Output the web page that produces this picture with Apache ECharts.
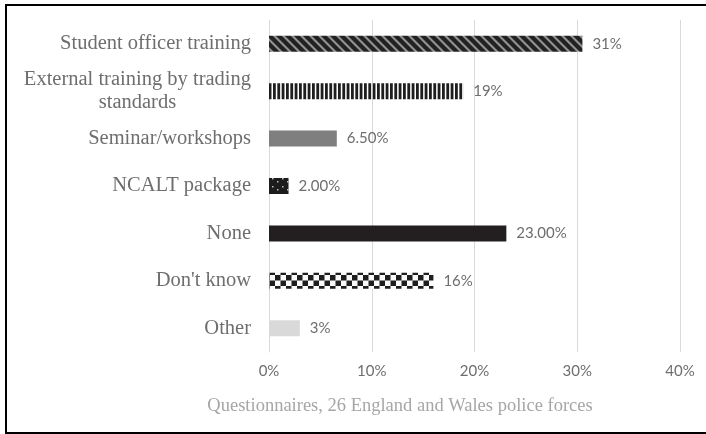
<!DOCTYPE html>
<html>
<head>
<meta charset="utf-8">
<script src="https://cdn.jsdelivr.net/npm/echarts@6/dist/echarts.min.js"></script>
<style>
html,body{margin:0;padding:0;background:#fff;overflow:hidden;}
#chart{width:706px;height:434px;}
</style>
</head>
<body>
<div id="chart"></div>
<script>
// ---- data ----
const categories = ['Student officer training', 'External training by trading standards', 'Seminar/workshops', 'NCALT package', 'None', "Don't know", 'Other'];
const values = [30.5, 18.9, 6.6, 1.9, 23.1, 16, 3];
const valueLabels = ['31%', '19%', '6.50%', '2.00%', '23.00%', '16%', '3%'];
const xTicks = [0, 10, 20, 30, 40];
const sourceText = 'Questionnaires, 26 England and Wales police forces';

// ---- pattern fills ----
function tile(w, h, draw) {
  const c = document.createElement('canvas');
  c.width = w; c.height = h;
  draw(c.getContext('2d'), w, h);
  return { image: c, repeat: 'repeat' };
}
const diag = tile(9, 9, (ctx, w, h) => {
  ctx.fillStyle = '#939393'; ctx.fillRect(0, 0, w, h);
  ctx.strokeStyle = '#222222'; ctx.lineWidth = 4.2;
  for (let x0 = -9; x0 <= 9; x0 += 9) {
    ctx.beginPath(); ctx.moveTo(x0 - 2, -2); ctx.lineTo(x0 + w + 2, h + 2); ctx.stroke();
  }
});
const vstripes = tile(13, 4, (ctx, w, h) => {
  ctx.fillStyle = '#ffffff'; ctx.fillRect(0, 0, w, h);
  ctx.fillStyle = '#1e1e1e';
  for (let i = 0; i < 3; i++) ctx.fillRect(i * 13 / 3, 0, 2.8, h);
});
const dots = tile(10, 8, (ctx, w, h) => {
  ctx.fillStyle = '#1c1c1c'; ctx.fillRect(0, 0, w, h);
  ctx.fillStyle = '#bdbdbd';
  ctx.fillRect(2, 2, 1.5, 1.5);
  ctx.fillRect(7, 5, 1.5, 1.5);
});
const checker = tile(11, 11, (ctx, w, h) => {
  ctx.fillStyle = '#fafafa'; ctx.fillRect(0, 0, w, h);
  ctx.fillStyle = '#1e1e1e';
  ctx.fillRect(0, 0, 5.5, 5.5);
  ctx.fillRect(5.5, 5.5, 5.5, 5.5);
});
const fills = [diag, vstripes, '#7f7f7f', dots, '#231f20', checker, '#d9d9d9'];

const chart = echarts.init(document.getElementById('chart'));
const labelGrey = '#6e6e6e';
chart.setOption({
  backgroundColor: '#ffffff',
  animation: false,
  grid: { left: 269, right: 26, top: 20, bottom: 82, containLabel: false },
  xAxis: {
    type: 'value', min: xTicks[0], max: xTicks[xTicks.length - 1], interval: 10,
    axisLine: { show: false }, axisTick: { show: false },
    splitLine: { show: true, lineStyle: { color: '#d9d9d9', width: 1 } },
    axisLabel: { formatter: '{value}%', color: labelGrey, fontFamily: 'Lato', fontSize: 15, margin: 12 }
  },
  yAxis: {
    type: 'category', inverse: true, data: categories,
    axisLine: { show: true, lineStyle: { color: '#d9d9d9', width: 1 } },
    axisTick: { show: false },
    axisLabel: {
      margin: 18, color: labelGrey, fontFamily: 'Liberation Serif', fontSize: 20.5,
      formatter: function (v) {
        if (v === 'External training by trading standards') {
          return '{c|External training by trading}\n{c|standards}';
        }
        return v;
      },
      rich: { c: { align: 'center', color: labelGrey, fontFamily: 'Liberation Serif', fontSize: 20.5, lineHeight: 23 } }
    }
  },
  series: [{
    type: 'bar', barWidth: 16,
    data: values.map((v, i) => ({ value: v, itemStyle: { color: fills[i] } })),
    label: {
      show: true, position: 'right', distance: 10,
      formatter: p => valueLabels[p.dataIndex],
      color: labelGrey, fontFamily: 'Lato', fontSize: 15
    }
  }],
  graphic: [
    { type: 'text', z: 10, style: { x: 400, y: 406, text: sourceText, textAlign: 'center', textVerticalAlign: 'middle', fill: '#a6a6a6', fontFamily: 'Liberation Serif', fontSize: 18.5 } },
    { type: 'polyline', z: 20, shape: { points: [[800, 5], [6, 5], [6, 433], [800, 433]] }, style: { fill: null, stroke: '#000000', lineWidth: 2 } }
  ]
});
</script>
</body>
</html>
